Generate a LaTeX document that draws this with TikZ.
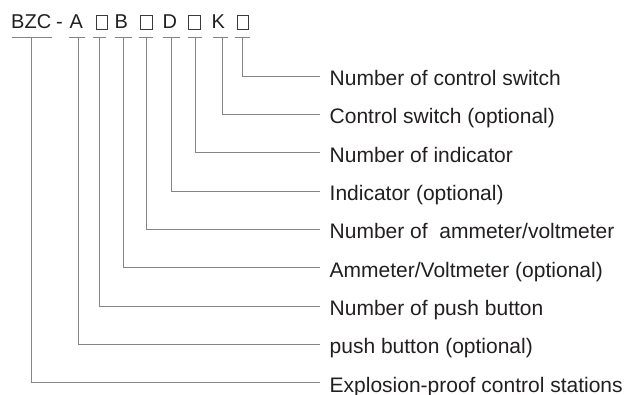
\documentclass[tikz,border=0pt]{standalone}
\usepackage{fontspec}
\setmainfont{Liberation Sans}
\definecolor{txt}{HTML}{231F20}
\definecolor{linegray}{HTML}{858585}
\definecolor{boxgray}{HTML}{3A3A3A}
\begin{document}
\begin{tikzpicture}[x=1pt,y=-1pt,
  conn/.style={draw=linegray,line width=0.9pt},
  code/.style={anchor=base west,inner sep=0pt,font=\fontsize{20}{24}\selectfont,text=txt},
  box/.style={draw=boxgray,line width=0.75pt,minimum width=11.5pt,minimum height=13.5pt,inner sep=0pt,anchor=south west},
  lab/.style={anchor=west,inner sep=0pt,text height=19pt,text depth=0pt,font=\fontsize{21}{25}\selectfont,text=txt}]
\useasboundingbox (0,0) rectangle (630,395);
% code line
\node[code] (bzc) at (11,29) {BZC};
\node[code] (dash) at (56,29) {-};
\node[code] (a) at (69.5,29) {A};
\node[box] (s1) at (95.5,29.3) {};
\node[code] (b) at (114.5,29) {B};
\node[box] (s2) at (140,29.3) {};
\node[code] (d) at (162.5,29) {D};
\node[box] (s3) at (188,29.3) {};
\node[code] (k) at (211.5,29) {K};
\node[box] (s4) at (236.5,29.3) {};
% underlines
\foreach \xa/\xb [count=\i] in {12/52,69/85,93/106,115/132,139/153,163/180,188/202,213/228,235/250}{
  \coordinate (ul\i) at (\xa,37);
  \coordinate (ur\i) at (\xb,37);
  \draw[conn] (ul\i) -- (ur\i);
}
% labels and connectors
\foreach \t/\xv [count=\i from 0] in {
  Number of control switch/242,
  Control switch (optional)/222,
  Number of indicator/195,
  Indicator (optional)/171,
  Number of~~ammeter\slash voltmeter/146,
  Ammeter\slash Voltmeter (optional)/123,
  Number of push button/99,
  push button (optional)/78,
  Explosion-proof control stations/31}{
  \pgfmathsetmacro\yy{76+38.35*\i}
  \node[lab] (lab\i) at (329.5,\yy) {\t};
  \coordinate (top\i) at (\xv,37);
  \coordinate (end\i) at ([xshift=-9.5pt]lab\i.west);
  \draw[conn] (top\i) |- (end\i);
}
\end{tikzpicture}
\end{document}
